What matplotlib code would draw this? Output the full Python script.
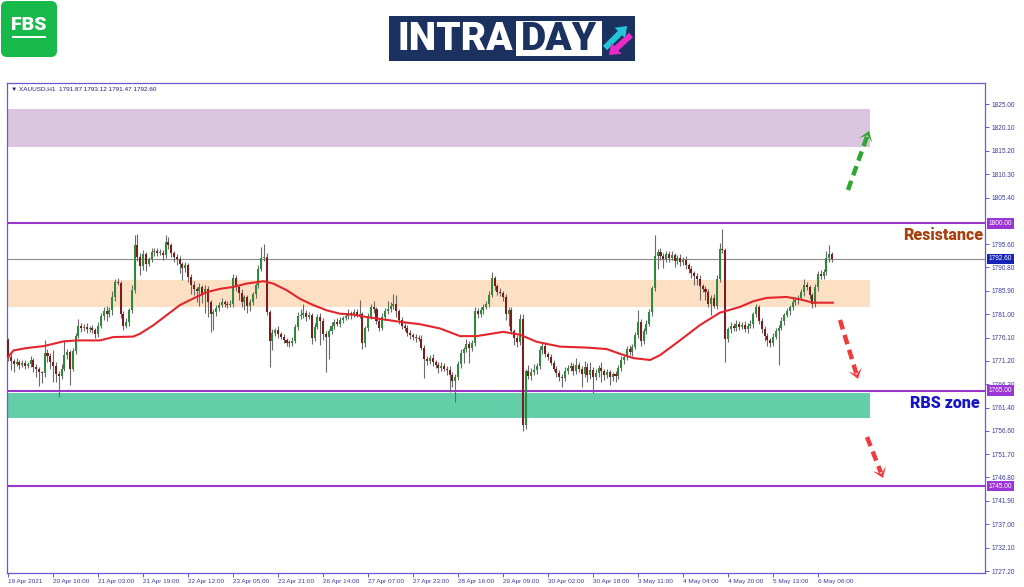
import matplotlib
matplotlib.use('Agg')
import matplotlib.pyplot as plt
import matplotlib.transforms as mtransforms
from matplotlib.patches import FancyBboxPatch, Rectangle, Polygon, FancyArrow
import numpy as np

# ---------------- data (XAUUSD H1) ----------------
first_open = 1775.6
closes = [
    1772.0, 1771.2, 1770.6, 1771.0, 1770.4, 1770.8, 1770.2, 1770.6, 1771.3, 1770.0,
    1769.5, 1768.8, 1768.6, 1772.8, 1772.2, 1771.0, 1770.2, 1768.4, 1768.0, 1769.6,
    1772.5, 1773.0, 1769.6, 1773.2, 1776.5, 1778.6, 1778.0, 1778.4, 1777.8, 1778.2,
    1777.6, 1776.9, 1778.5, 1780.6, 1781.6, 1781.0, 1781.8, 1784.5, 1787.8, 1787.5,
    1781.0, 1778.6, 1779.3, 1781.8, 1786.0, 1795.5, 1793.0, 1791.0, 1793.5, 1791.6,
    1792.5, 1794.0, 1794.3, 1793.8, 1793.9, 1793.3, 1796.2, 1795.5, 1793.7, 1793.0,
    1792.6, 1791.5, 1790.7, 1791.2, 1788.8, 1787.2, 1786.2, 1785.8, 1786.6, 1785.2,
    1786.3, 1783.5, 1781.0, 1781.4, 1782.2, 1783.0, 1783.6, 1783.2, 1782.9, 1783.1,
    1788.5, 1786.6, 1785.5, 1783.6, 1784.5, 1782.8, 1783.5, 1785.2, 1787.0, 1790.5,
    1792.8, 1793.0, 1781.5, 1775.3, 1777.0, 1777.6, 1776.8, 1776.2, 1775.5, 1775.0,
    1774.9, 1775.4, 1778.4, 1780.6, 1780.9, 1781.2, 1780.4, 1780.8, 1776.0, 1778.4,
    1780.4, 1779.6, 1776.8, 1776.2, 1777.4, 1778.6, 1779.4, 1779.0, 1779.8, 1780.2,
    1780.6, 1781.2, 1780.8, 1781.4, 1780.9, 1781.0, 1775.0, 1778.0, 1780.4, 1782.6,
    1782.0, 1779.5, 1778.2, 1780.5, 1781.6, 1782.0, 1782.8, 1783.2, 1781.6, 1779.8,
    1778.6, 1778.0, 1777.0, 1776.6, 1776.2, 1776.0, 1775.8, 1774.0, 1771.7, 1771.2,
    1771.8, 1771.0, 1770.4, 1769.8, 1770.2, 1769.6, 1769.4, 1768.2, 1767.0, 1767.8,
    1770.5, 1772.8, 1773.6, 1774.8, 1774.0, 1775.0, 1781.6, 1781.0, 1781.8, 1782.6,
    1783.2, 1785.0, 1788.5, 1786.8, 1785.6, 1785.4, 1784.6, 1781.0, 1781.8, 1777.4,
    1776.0, 1775.2, 1780.0, 1757.8, 1769.0, 1768.0, 1768.8, 1769.3, 1770.2, 1773.5,
    1774.3, 1772.6, 1772.0, 1770.8, 1769.6, 1768.6, 1767.8, 1767.6, 1769.2, 1769.8,
    1770.2, 1769.0, 1770.4, 1769.6, 1768.4, 1770.0, 1768.2, 1769.4, 1767.8, 1768.6,
    1769.8, 1769.0, 1768.2, 1768.8, 1767.8, 1768.4, 1768.0, 1769.8, 1771.4, 1772.0,
    1773.8, 1773.0, 1774.2, 1776.6, 1779.4, 1775.4, 1777.5, 1779.0, 1781.5, 1786.4,
    1793.2, 1794.0, 1793.2, 1792.6, 1793.6, 1792.8, 1793.4, 1792.2, 1792.8, 1791.9,
    1792.4, 1791.2, 1790.4, 1789.6, 1789.0, 1788.4, 1786.8, 1786.2, 1785.6, 1783.2,
    1784.4, 1782.8, 1788.4, 1794.6, 1794.4, 1775.9, 1777.8, 1778.6, 1778.0, 1779.0,
    1778.4, 1778.8, 1777.8, 1778.6, 1779.0, 1781.0, 1782.4, 1779.6, 1777.8, 1776.4,
    1775.6, 1775.0, 1776.2, 1777.4, 1778.2, 1779.6, 1780.8, 1781.6, 1782.4, 1783.6,
    1784.0, 1784.4, 1785.6, 1787.2, 1786.6, 1785.0, 1783.2, 1786.6, 1789.4, 1789.0,
    1789.8, 1792.8, 1793.5, 1792.6,
]
upper_wick = [
    0.4, 0.6, 0.5, 0.8, 0.4, 0.6, 0.5, 0.4, 0.9, 0.5,
    0.6, 0.5, 0.4, 2.7, 0.8, 0.6, 2.5, 0.7, 0.6, 1.0,
    3.0, 0.6, 0.5, 0.8, 0.5, 1.4, 0.6, 0.5, 0.8, 0.4,
    0.6, 0.5, 0.8, 0.6, 1.0, 1.2, 0.8, 1.4, 0.6, 0.8,
    0.4, 0.6, 0.8, 0.5, 1.0, 2.0, 2.2, 0.8, 1.0, 0.6,
    0.5, 0.8, 0.6, 0.5, 0.7, 0.6, 1.4, 1.0, 0.5, 0.6,
    0.5, 0.6, 0.4, 0.8, 0.5, 0.6, 0.7, 0.5, 0.9, 0.6,
    0.8, 0.6, 0.5, 0.6, 0.8, 0.5, 0.7, 0.4, 0.6, 0.9,
    0.9, 0.6, 0.5, 0.8, 0.6, 0.5, 0.7, 0.5, 0.6, 0.8,
    2.2, 2.7, 0.8, 0.4, 0.8, 0.6, 0.9, 0.5, 0.6, 0.5,
    0.6, 0.8, 0.6, 0.9, 1.2, 2.0, 0.6, 0.7, 0.5, 0.8,
    0.6, 0.8, 0.5, 0.6, 0.4, 0.7, 0.5, 0.8, 0.6, 0.5,
    0.6, 0.8, 0.5, 0.7, 0.6, 2.9, 0.5, 0.6, 0.8, 0.6,
    1.2, 0.6, 0.5, 0.8, 0.6, 1.8, 0.7, 2.1, 1.8, 0.5,
    0.6, 0.5, 0.8, 0.6, 0.5, 0.7, 0.6, 0.8, 0.6, 0.5,
    0.6, 0.8, 0.5, 0.6, 0.7, 0.5, 0.6, 0.8, 0.6, 0.7,
    0.6, 0.8, 0.5, 0.9, 0.6, 0.5, 0.8, 0.6, 0.7, 0.6,
    0.6, 0.8, 1.3, 0.5, 0.6, 0.8, 0.5, 0.6, 0.7, 0.8,
    0.5, 0.6, 1.0, 1.1, 0.6, 1.4, 1.0, 1.3, 0.6, 0.8,
    0.6, 0.8, 0.5, 0.7, 0.6, 0.5, 0.8, 0.6, 0.7, 0.5,
    0.8, 0.6, 1.4, 0.5, 0.6, 1.2, 0.7, 1.6, 0.5, 1.0,
    0.6, 1.2, 0.5, 0.8, 0.6, 0.5, 0.7, 0.6, 0.8, 0.5,
    0.6, 0.8, 0.5, 0.7, 2.4, 0.6, 0.5, 0.8, 0.6, 0.5,
    4.3, 0.6, 0.8, 0.5, 0.7, 0.6, 0.8, 0.5, 0.6, 0.7,
    0.5, 0.8, 0.6, 0.7, 0.5, 0.6, 0.8, 0.5, 0.6, 0.7,
    0.6, 0.8, 0.9, 1.2, 4.3, 0.4, 0.6, 0.8, 0.5, 0.7,
    0.6, 0.5, 0.8, 0.6, 0.7, 0.5, 0.8, 0.6, 0.5, 0.7,
    0.6, 0.5, 0.8, 0.7, 0.6, 0.8, 0.5, 0.7, 0.6, 0.8,
    0.5, 0.7, 0.6, 1.2, 0.5, 0.6, 0.5, 0.8, 0.6, 0.9,
    0.6, 1.4, 1.9, 0.5,
]
lower_wick = [
    0.9, 1.8, 1.7, 0.5, 0.8, 0.4, 0.7, 0.5, 0.6, 1.2,
    1.6, 2.8, 2.0, 0.8, 1.2, 1.5, 3.4, 1.6, 4.3, 0.6,
    0.6, 0.8, 3.5, 0.5, 0.6, 0.4, 0.8, 0.6, 0.7, 0.5,
    0.5, 0.8, 0.6, 0.5, 0.8, 1.5, 0.6, 0.9, 0.8, 0.5,
    0.8, 1.0, 0.6, 0.8, 0.5, 0.6, 0.8, 1.9, 0.8, 1.5,
    0.6, 0.5, 0.8, 0.6, 0.5, 0.9, 0.6, 0.8, 0.7, 1.0,
    1.4, 1.8, 2.5, 0.8, 1.0, 2.0, 1.2, 2.2, 3.0, 1.8,
    4.0, 3.0, 3.7, 3.4, 0.8, 0.6, 0.5, 0.8, 0.6, 0.5,
    0.5, 0.8, 1.5, 1.2, 1.8, 1.6, 1.2, 0.6, 0.8, 0.5,
    0.5, 0.6, 0.7, 5.3, 1.8, 0.6, 0.8, 0.5, 0.6, 0.7,
    0.8, 0.6, 0.5, 0.7, 0.6, 0.8, 0.9, 0.5, 1.2, 0.6,
    0.5, 5.0, 1.2, 7.3, 4.5, 0.6, 0.8, 0.5, 0.7, 0.6,
    0.5, 0.6, 0.8, 0.5, 0.6, 0.7, 1.2, 0.8, 0.6, 0.5,
    0.8, 0.6, 0.8, 0.5, 0.8, 0.6, 0.5, 0.7, 1.2, 0.8,
    0.8, 0.6, 0.5, 0.7, 0.6, 0.8, 0.5, 0.6, 4.1, 0.8,
    0.7, 0.8, 0.6, 1.2, 0.8, 0.6, 1.2, 3.5, 1.2, 4.4,
    0.5, 0.8, 2.0, 0.6, 3.3, 0.8, 0.6, 0.8, 0.5, 0.7,
    0.5, 0.6, 0.5, 0.8, 0.6, 0.7, 0.8, 1.2, 2.4, 0.6,
    1.4, 1.0, 0.6, 1.3, 0.8, 0.6, 0.7, 0.5, 0.8, 0.6,
    0.8, 0.6, 0.7, 0.5, 0.6, 0.8, 0.9, 1.8, 0.6, 0.7,
    0.6, 0.8, 0.5, 0.7, 2.6, 0.6, 1.4, 0.8, 3.4, 0.6,
    0.8, 2.2, 1.0, 0.6, 1.6, 0.8, 1.2, 0.5, 0.6, 0.8,
    0.5, 0.6, 0.8, 0.6, 0.5, 1.0, 0.7, 0.6, 0.5, 0.8,
    0.6, 2.7, 0.8, 2.0, 0.6, 0.8, 0.5, 1.4, 0.6, 0.8,
    0.6, 0.8, 0.7, 1.0, 2.0, 1.2, 2.9, 0.6, 1.6, 0.8,
    2.4, 0.6, 0.8, 0.6, 0.5, 4.9, 0.7, 0.8, 0.6, 0.5,
    0.8, 0.6, 0.5, 0.7, 0.6, 0.8, 0.5, 0.6, 0.8, 1.0,
    1.2, 0.8, 0.6, 0.5, 7.1, 0.6, 0.8, 0.5, 0.7, 0.6,
    0.6, 0.8, 0.5, 0.7, 0.6, 0.8, 1.0, 0.6, 0.8, 0.7,
    0.7, 0.6, 0.8, 0.6,
]

ma_bars = [0, 1.9, 6.6, 12.6, 19.7, 24.4, 32.7, 37.4, 44.5, 46.9, 51.7, 56.4, 61.1,
           65.9, 70.6, 75.4, 80.1, 84.8, 90.8, 94.3, 99.1, 103.8, 108.5, 113.3,
           118.0, 122.7, 127.5, 133.4, 139.3, 146.4, 153.6, 160.7, 166.6, 176.1,
           182.0, 188.0, 196.3, 205.7, 212.8, 217.6, 222.3, 228.3, 231.8, 238.9,
           246.0, 253.1, 260.2, 265.0, 269.7, 276.8, 281.6, 286.3, 293.4]
ma_values = [1772.0, 1773.4, 1773.9, 1774.3, 1775.3, 1775.5, 1775.5, 1776.2, 1776.3,
             1776.9, 1778.7, 1780.8, 1782.9, 1784.3, 1785.6, 1786.3, 1786.7, 1787.4,
             1787.9, 1787.4, 1786.0, 1784.2, 1782.9, 1781.8, 1781.1, 1780.9, 1780.4,
             1779.9, 1779.4, 1778.9, 1778.0, 1776.4, 1776.4, 1777.3, 1776.7, 1775.2,
             1774.2, 1774.0, 1773.7, 1772.7, 1771.8, 1771.4, 1772.4, 1775.5, 1778.7,
             1781.3, 1782.5, 1783.7, 1784.4, 1784.6, 1784.1, 1783.4, 1783.4]

x_tick_bars = [0, 16, 32, 48, 64, 80, 96, 112, 128, 144, 160, 176, 192, 208, 224,
               240, 256, 272, 288]
x_tick_labels = ['19 Apr 2021', '20 Apr 10:00', '21 Apr 03:00', '21 Apr 19:00',
                 '22 Apr 12:00', '23 Apr 05:00', '23 Apr 21:00', '26 Apr 14:00',
                 '27 Apr 07:00', '27 Apr 23:00', '28 Apr 16:00', '29 Apr 09:00',
                 '30 Apr 02:00', '30 Apr 18:00', '3 May 11:00', '4 May 04:00',
                 '4 May 20:00', '5 May 13:00', '6 May 06:00']
y_tick_values = [1825.00, 1820.10, 1815.20, 1810.30, 1805.40, 1795.60, 1790.80,
                 1785.90, 1781.00, 1776.10, 1771.20, 1766.30, 1761.40, 1756.60,
                 1751.70, 1746.80, 1741.90, 1737.00, 1732.10, 1727.20]
key_levels = [1800.00, 1765.00, 1745.00]
last_price = 1792.60
header_text = '\u25BC XAUUSD,H1  1791.87 1793.12 1791.47 1792.60'
zone_target = (1815.9, 1823.9)
zone_pivot = (1782.6, 1788.1)
zone_rbs = (1759.2, 1764.4)
zone_end_bar = 306.5

# ---------------- figure ----------------
W, H = 1024, 587
fig = plt.figure(figsize=(W / 100, H / 100), dpi=100)
fig.patch.set_facecolor('white')
ax = fig.add_axes([7 / W, 1 - 573 / H, (985 - 7) / W, (573 - 83) / H])
frame_col = '#6a5acd'
axis_txt = '#3b3b9c'
xlim = (-0.4, 347.4)
ylim = (1726.8, 1829.4)
ax.set_xlim(*xlim)
ax.set_ylim(*ylim)

# zones
for (lo, hi), col in [(zone_target, '#d9c5dd'), (zone_pivot, '#fde0c4'), (zone_rbs, '#63cea8')]:
    ax.add_patch(Rectangle((xlim[0], lo), zone_end_bar - xlim[0], hi - lo,
                           facecolor=col, edgecolor='none', zorder=0.5))

# level lines
for lv in key_levels:
    ax.axhline(lv, color='#9b35c9', lw=1.5, zorder=1)
ax.axhline(last_price, color='#8a8a8a', lw=0.8, zorder=1)

# candles
c = np.array(closes)
o = np.array([first_open] + closes[:-1])
hi_ = np.maximum(o, c) + np.array(upper_wick)
lo_ = np.minimum(o, c) - np.array(lower_wick)
xs = np.arange(len(c))
ax.vlines(xs, lo_, hi_, color='#6a6a6a', lw=0.8, zorder=2)
body_lo = np.minimum(o, c)
body_h = np.maximum(np.abs(c - o), 0.2)
cols = np.where(c >= o, '#2c8a3a', '#7d1c1c')
ax.bar(xs, body_h, bottom=body_lo, width=0.72, color=cols, edgecolor='none', zorder=3)

# moving average
ax.plot(ma_bars, ma_values, color='#e3262b', lw=1.5, zorder=4,
        solid_capstyle='round', solid_joinstyle='round')

# axes styling
for s in ax.spines.values():
    s.set_color(frame_col)
    s.set_linewidth(0.9)
ax.yaxis.tick_right()
ax.set_yticks(y_tick_values)
ax.set_yticklabels(['%.2f' % v for v in y_tick_values])
ax.tick_params(axis='y', length=3, width=0.7, pad=2, color=frame_col,
               labelsize=4.7, labelcolor=axis_txt)
ax.set_xticks(x_tick_bars)
ax.set_xticklabels(x_tick_labels)
ax.tick_params(axis='x', length=3, width=0.7, pad=1.5, color=frame_col,
               labelsize=4.6, labelcolor=axis_txt)
for lab in ax.get_xticklabels():
    lab.set_ha('left')
    lab.set_family('Liberation Sans')
for lab in ax.get_yticklabels():
    lab.set_family('Liberation Sans')

trans = mtransforms.blended_transform_factory(ax.transAxes, ax.transData)
for lv in key_levels:
    ax.text(1.004, lv, '%.2f' % lv, transform=trans, fontsize=4.7, color='white',
            family='Liberation Sans', va='center', ha='left',
            bbox=dict(boxstyle='square,pad=0.25', fc='#9b35d6', ec='none'))
ax.text(1.004, last_price, '%.2f' % last_price, transform=trans, fontsize=4.7,
        color='white', family='Liberation Sans', va='center', ha='left',
        bbox=dict(boxstyle='square,pad=0.25', fc='#1424b4', ec='none'))

ax.text(0.004, 0.988, header_text, transform=ax.transAxes, fontsize=4.6,
        color='#1e1e78', va='center', ha='left', family=['Liberation Sans', 'DejaVu Sans'])

# ---------------- overlay (pixel coordinates) ----------------
ov = fig.add_axes([0, 0, 1, 1])
ov.set_xlim(0, W)
ov.set_ylim(H, 0)
ov.axis('off')
ov.patch.set_alpha(0)

# FBS logo
ov.add_patch(FancyBboxPatch((1, 1), 56, 56, boxstyle='round,pad=0,rounding_size=6',
                            fc='#17b94b', ec='none'))
ov.text(29, 25, 'FBS', color='white', fontsize=14, fontweight='heavy',
        family='Roboto', ha='center', va='center')
ov.add_patch(Rectangle((12, 36), 34, 2.2, fc='white', ec='none'))

# INTRADAY logo
ov.add_patch(Rectangle((389, 16), 246, 45, fc='#1b3260', ec='none'))
ov.add_patch(Rectangle((516, 21), 86, 35, fc='white', ec='none'))
ov.text(455, 39, 'INTRA', color='white', fontsize=28, fontweight='heavy',
        family='Roboto', ha='center', va='center')
ov.text(559, 39, 'DAY', color='#1b3260', fontsize=28, fontweight='heavy',
        family='Roboto', ha='center', va='center')
ov.add_patch(FancyArrow(605, 48, 22, -22, width=6, head_width=15, head_length=10,
                        length_includes_head=True, fc='#23c6d8', ec='none'))
ov.add_patch(FancyArrow(631, 35, -22, 20, width=6, head_width=15, head_length=10,
                        length_includes_head=True, fc='#e82bc9', ec='none'))

# annotation texts
ov.text(983, 235, 'Resistance', color='#a8410e', fontsize=11.5, fontweight='heavy',
        family='Roboto', ha='right', va='center')
ov.text(980, 403, 'RBS zone', color='#1616c6', fontsize=11.5, fontweight='heavy',
        family='Roboto', ha='right', va='center')


def dashed_arrow(p0, p1, col):
    p0 = np.array(p0, float)
    p1 = np.array(p1, float)
    d = p1 - p0
    d = d / np.hypot(*d)
    n = np.array([-d[1], d[0]])
    h = 10.0
    shaft_end = p1 - d * h * 0.6
    ov.plot([p0[0], shaft_end[0]], [p0[1], shaft_end[1]], color=col, lw=3.2,
            dashes=(2.2, 1.3), solid_capstyle='butt')
    pts = [p1, p1 - d * h + n * h * 0.7, p1 - d * h * 0.45, p1 - d * h - n * h * 0.7]
    ov.add_patch(Polygon(pts, closed=True, fc=col, ec='none'))


dashed_arrow((848, 190), (869, 131), '#33a532')
dashed_arrow((840, 320), (858, 379), '#ee3b3b')
dashed_arrow((867, 437), (883, 478), '#ee3b3b')

fig.savefig('out.png', dpi=100, facecolor='white')
